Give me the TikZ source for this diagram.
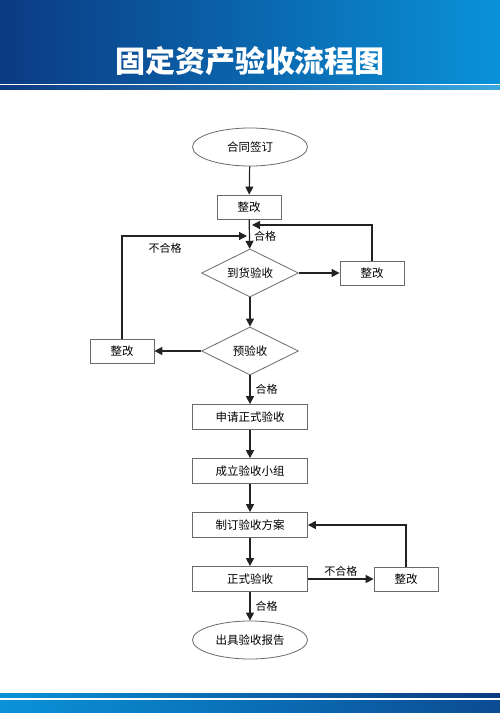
\documentclass[tikz,border=0pt]{standalone}
\usepackage{fontspec}
\setmainfont{Noto Sans CJK SC}
\usetikzlibrary{shapes.geometric,arrows.meta}

\definecolor{bardark}{HTML}{0B3A82}
\definecolor{barlight}{HTML}{0A92D8}
\definecolor{edgegray}{HTML}{6A6A6A}
\definecolor{linedark}{HTML}{222222}

\tikzset{
  box/.style={draw=edgegray,line width=0.8pt,minimum width=64pt,minimum height=24pt,inner sep=1pt},
  boxwide/.style={box,minimum width=115pt,minimum height=25pt},
  decision/.style={draw=edgegray,line width=0.8pt,diamond,aspect=2,minimum width=97pt,minimum height=48pt,inner sep=0pt},
  term/.style={draw=edgegray,line width=0.8pt,ellipse,minimum width=115pt,minimum height=38pt,inner sep=0pt},
  flow/.style={draw=linedark,line width=1.2pt,-{Triangle[length=8pt,width=8pt]}},
  lbl/.style={font=\fontsize{11}{13}\selectfont,inner sep=1pt}
}

\begin{document}
\begin{tikzpicture}[x=1pt,y=-1pt,font=\fontsize{11.5}{13}\selectfont]
		\useasboundingbox (0,0) rectangle (500,713);
		% header
		\shade[left color=bardark,right color=barlight] (0,0) rectangle (500,83);
		\shade[left color=bardark,right color=barlight!80] (0,85.5) rectangle (500,89);
		\node[text=white,font=\fontsize{30}{32}\selectfont\bfseries] (title) at (250,61) {固定资产验收流程图};
		% footer
		\shade[left color=barlight,right color=bardark] (0,693) rectangle (500,697);
		\shade[left color=barlight,right color=bardark!80!barlight] (0,700) rectangle (500,713);

		% nodes
		\node[term] (sign) at (250,147) {合同签订};
		\node[box] (fix1) at (249,207) {整改};
		\node[decision] (arrive) at (250,273) {到货验收};
		\node[box] (fix2) at (372,273) {整改};
		\node[decision] (pre) at (250,351) {预验收};
		\node[box] (fix3) at (122,351) {整改};
		\node[boxwide] (apply) at (250,417) {申请正式验收};
		\node[boxwide] (team) at (250,471) {成立验收小组};
		\node[boxwide] (plan) at (250,525) {制订验收方案};
		\node[boxwide] (formal) at (250,579) {正式验收};
		\node[box] (fix4) at (406,579) {整改};
		\node[term] (report) at (250,640) {出具验收报告};
		\coordinate (joinL) at (247,236);
		\coordinate (joinR) at (252,225);

		% connectors
		\draw[flow] (sign) -- (fix1);
		\draw[flow] (fix1) -- (arrive);
		\node[lbl] (ok1) at (265,236) {合格};
		\draw[flow] (fix3) |- (joinL);
		\node[lbl] (fail1) at (165,248) {不合格};
		\draw[flow] (arrive) -- (fix2);
		\draw[flow] (fix2) |- (joinR);
		\draw[flow] (arrive) -- (pre);
		\draw[flow] (pre) -- (fix3);
		\draw[flow] (pre) -- node[lbl,right=4pt] (ok2) {合格} (apply);
		\draw[flow] (apply) -- (team);
		\draw[flow] (team) -- (plan);
		\draw[flow] (plan) -- (formal);
		\draw[flow] (formal) -- node[lbl,above=1pt] (fail2) {不合格} (fix4);
		\draw[flow] (fix4) |- (plan);
		\draw[flow] (formal) -- node[lbl,right=4pt] (ok3) {合格} (report);
	\end{tikzpicture}
\end{document}
